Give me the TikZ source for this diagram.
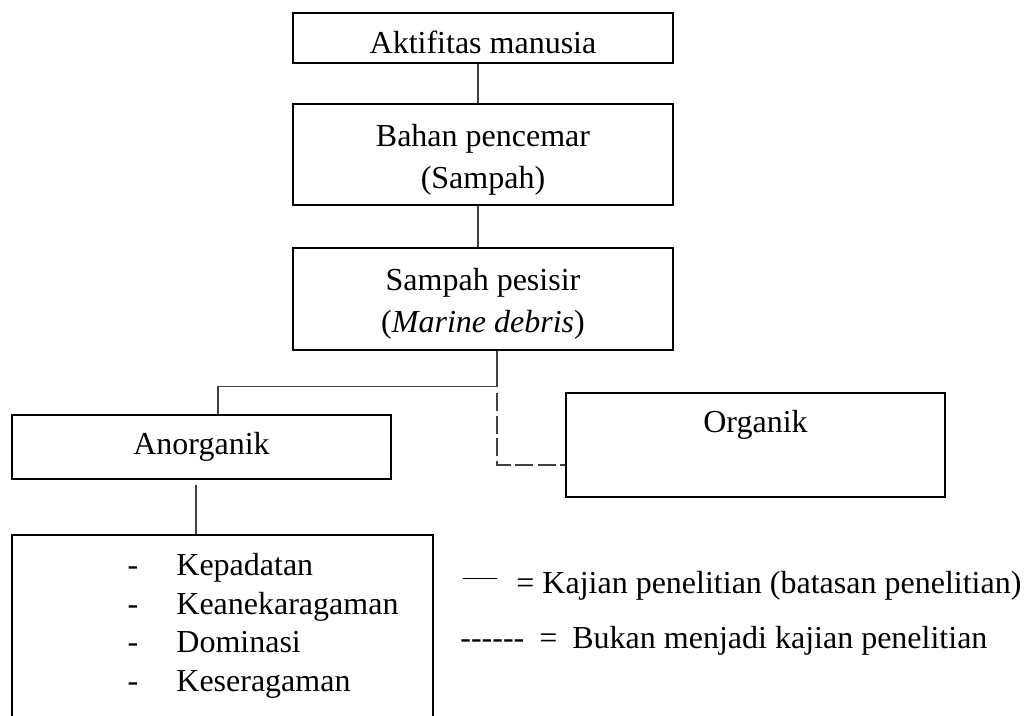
\documentclass[tikz,border=0pt]{standalone}
\usepackage{fontspec}
\setmainfont{Liberation Serif}
\begin{document}
\begin{tikzpicture}[x=0.5pt,y=-0.5pt,
  every node/.style={font=\fontsize{16}{21}\selectfont},
  box/.style={draw=black,line width=1pt,inner sep=0pt,align=center},
  conn/.style={draw=black!75,line width=0.55pt},
  dconn/.style={conn,dash pattern=on 9pt off 2.2pt}]
\useasboundingbox (0,0) rectangle (1030,716);
\clip (0,0) rectangle (1030,716);
% boxes
\node[box,minimum width=190pt,minimum height=25pt] (akt) at (483,38) {\rule{0pt}{16pt}Aktifitas manusia};
\node[box,minimum width=190pt,minimum height=50.5pt] (bahan) at (483,154.5) {\rule{0pt}{16pt}Bahan pencemar\\(Sampah)};
\node[box,minimum width=190pt,minimum height=51pt] (pesisir) at (483,299) {\rule{0pt}{16pt}Sampah pesisir\\(\textit{Marine debris})};
\node[box,minimum width=189.5pt,minimum height=32pt] (anorg) at (201.5,447) {Anorganik};
\node[box,minimum width=189.5pt,minimum height=52pt] (org) at (755.5,445) {};
\node[anchor=base,inner sep=0pt] (orgtxt) at (755.5,433) {Organik};
\node[box,minimum width=210.5pt,minimum height=122.5pt] (list) at (222.5,657.5) {};
% list items
\foreach \t/\yy [count=\i] in {Kepadatan/576,Keanekaragaman/615,Dominasi/653,Keseragaman/692}{
  \node[anchor=base,inner sep=0pt] (d\i) at (133,\yy) {-};
  \node[anchor=base west,inner sep=0pt] (t\i) at (176,\yy) {\t};
}
% connectors
\draw[conn] ([xshift=-2.5pt]akt.south) -- ([xshift=-2.5pt]bahan.north);
\draw[conn] ([xshift=-2.5pt]bahan.south) -- ([xshift=-2.5pt]pesisir.north);
\coordinate (split) at ([xshift=7pt,yshift=-17.75pt]pesisir.south);
\draw[conn] ([xshift=7pt]pesisir.south) -- (split) -| ([xshift=8.25pt]anorg.north);
\draw[dconn] ([yshift=-3.5pt]split) |- ([yshift=-10pt]org.west);
\draw[conn] ([xshift=-2.75pt,yshift=-2.5pt]anorg.south) -- ([xshift=-13.25pt]list.north);
% legend
\coordinate (la) at (463,579);
\coordinate (lb) at (497,579);
\draw[line width=0.5pt] (la) -- (lb);
\node[anchor=base west,inner sep=0pt] (leg1) at (516,594) {= Kajian penelitian (batasan penelitian)};
\node[anchor=base west,inner sep=0pt] (leg2a) at (460,649) {-{}-{}-{}-{}-{}-};
\node[anchor=base west,inner sep=0pt] (leg2b) at (539,649) {=};
\node[anchor=base west,inner sep=0pt] (leg2c) at (572,649) {Bukan menjadi kajian penelitian};
\end{tikzpicture}
\end{document}
